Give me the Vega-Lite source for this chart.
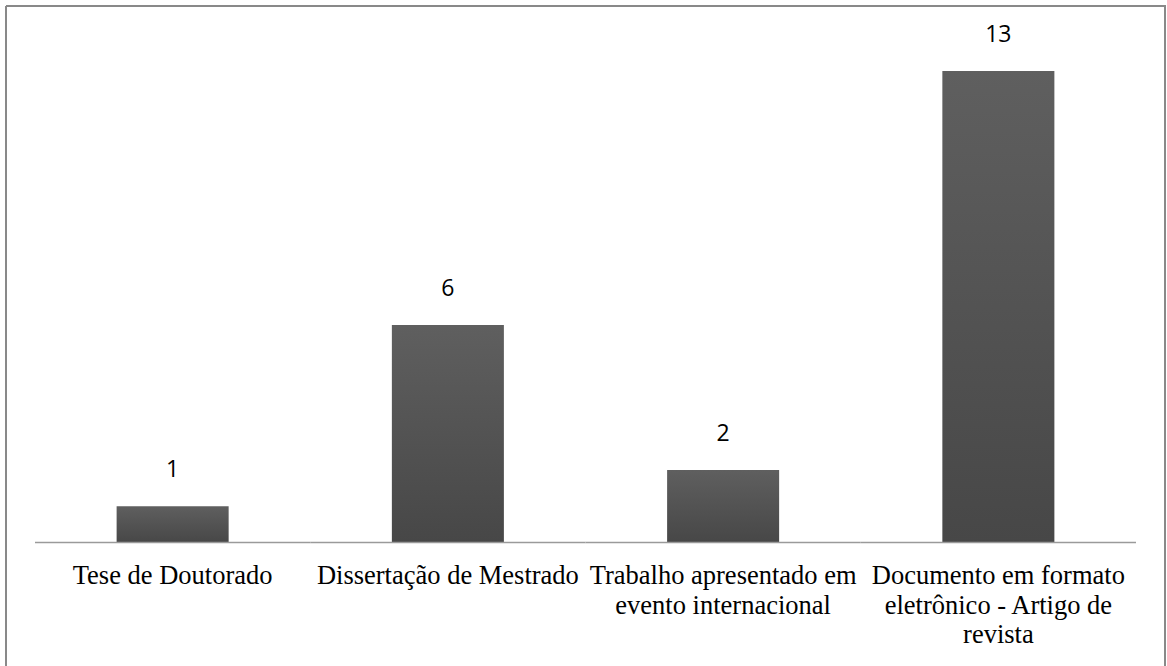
{
  "$schema": "https://vega.github.io/schema/vega-lite/v6.json",
  "width": 1159,
  "height": 660,
  "autosize": "none",
  "padding": {"left": 6, "top": 6, "right": 2, "bottom": 0},
  "background": "white",
  "config": {
    "view": {"stroke": "#898989", "strokeWidth": 2, "strokeDash": [1819, 1159, 660, 0]}
  },
  "data": {
    "values": [
      {"tipo": "Tese de Doutorado", "total": 1},
      {"tipo": "Dissertação de Mestrado", "total": 6},
      {"tipo": "Trabalho apresentado em evento internacional", "total": 2},
      {"tipo": "Documento em formato eletrônico - Artigo de revista", "total": 13}
    ]
  },
  "encoding": {
    "x": {
      "field": "tipo",
      "type": "nominal",
      "sort": null,
      "scale": {"paddingInner": 0, "paddingOuter": 0.1054},
      "axis": {
        "orient": "bottom",
        "offset": -123.5,
        "title": null,
        "domain": false,
        "ticks": false,
        "labelAngle": 0,
        "labelPadding": 20,
        "labelFont": "Liberation Serif",
        "labelFontSize": 26.5,
        "labelColor": "#000000",
        "labelLineHeight": 29.5,
        "labelLimit": 0,
        "labelOverlap": false,
        "labelFlush": false,
        "labelBound": false,
        "labelExpr": "datum.value == 'Trabalho apresentado em evento internacional' ? ['Trabalho apresentado em', 'evento internacional'] : datum.value == 'Documento em formato eletrônico - Artigo de revista' ? ['Documento em formato', 'eletrônico - Artigo de', 'revista'] : datum.label"
      }
    }
  },
  "layer": [
    {
      "mark": {
        "type": "bar",
        "width": {"band": 0.407},
        "fill": {
          "gradient": "linear",
          "x1": 0, "y1": 0, "x2": 0, "y2": 1,
          "stops": [
            {"offset": 0, "color": "#5f5f5f"},
            {"offset": 1, "color": "#474747"}
          ]
        }
      },
      "encoding": {
        "y": {
          "field": "total",
          "type": "quantitative",
          "scale": {"domain": [-3.405, 14.792], "nice": false, "zero": false},
          "axis": null
        },
        "y2": {"datum": 0}
      }
    },
    {
      "mark": {"type": "rule", "color": "#9a9a9a", "strokeWidth": 1.6},
      "encoding": {
        "x": {"field": "tipo", "type": "nominal", "sort": null, "bandPosition": 0},
        "x2": {"field": "tipo", "bandPosition": 1},
        "y": {"datum": 0}
      }
    },
    {
      "mark": {"type": "text", "font": "Open Sans", "fontSize": 23, "dy": -36, "baseline": "middle", "color": "#000000"},
      "encoding": {
        "y": {"field": "total", "type": "quantitative"},
        "text": {"field": "total", "type": "quantitative"}
      }
    }
  ]
}
